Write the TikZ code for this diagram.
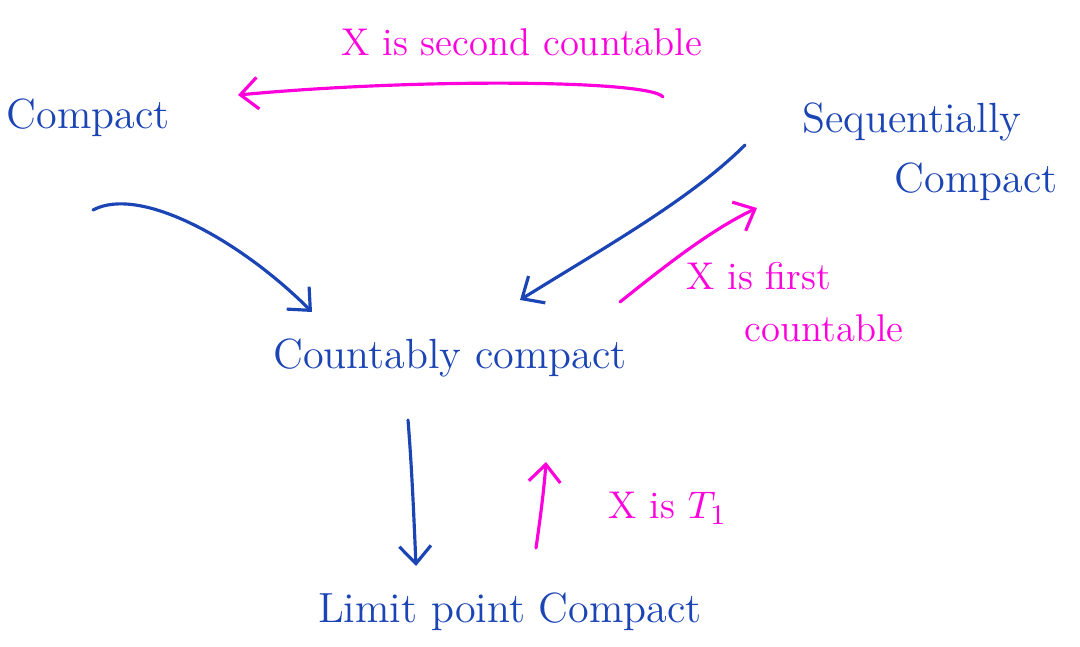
\documentclass[tikz,border=0pt]{standalone}
\usepackage{tikz}
\usetikzlibrary{arrows.meta,calc,positioning}
\definecolor{inkblue}{HTML}{1B44B4}
\definecolor{inkpink}{HTML}{FF00DD}

\begin{document}
\begin{tikzpicture}[x=0.01cm,y=-0.01cm,>={Straight Barb[length=5pt,width=9pt]},
  prop/.style={text=inkblue,font=\fontsize{12}{17}\selectfont,align=left},
  cond/.style={text=inkpink,font=\fontsize{11}{15}\selectfont,align=left},
  imp/.style={->,inkblue,line width=0.9pt,line cap=round},
  hyp/.style={->,inkpink,line width=0.9pt,line cap=round}]
  \useasboundingbox (0,0) rectangle (1080,646);
  % statements
  \node[prop] (comp) at (88,118) {Compact};
  \node[prop] (seq) at (930,152) {Sequentially\\ \hspace*{2.2em}Compact};
  \node[prop] (cntbl) at (450,358) {Countably compact};
  \node[prop] (lim) at (510,612) {Limit point Compact};
  % extra hypotheses
  \node[cond] (second) at (522,42) {X is second countable};
  \node[cond] (first) at (795,302) {X is first\\ \hspace*{1.5em}countable};
  \node[cond] (tone) at (668,508) {X is $T_1$};
  % arrow ends
  \coordinate (a1) at (663,97);  \coordinate (a2) at (238,95);
  \coordinate (b1) at (93,210);  \coordinate (b2) at (312,312);
  \coordinate (c1) at (745,145); \coordinate (c2) at (520,300);
  \coordinate (d1) at (620,302); \coordinate (d2) at (757,208);
  \coordinate (e1) at (408,420); \coordinate (e2) at (416,566);
  \coordinate (f1) at (536,548); \coordinate (f2) at (546,462);
  % implications
  \draw[hyp] (a1) .. controls (650,80) and (420,78) .. (a2);
  \draw[imp] (b1) .. controls (140,185) and (240,240) .. (b2);
  \draw[imp] (c1) .. controls (690,200) and (600,250) .. (c2);
  \draw[hyp] (d1) .. controls (660,270) and (710,230) .. (d2);
  \draw[imp] (e1) .. controls (412,470) and (414,520) .. (e2);
  \draw[hyp] (f1) .. controls (540,520) and (544,490) .. (f2);
\end{tikzpicture}
\end{document}
